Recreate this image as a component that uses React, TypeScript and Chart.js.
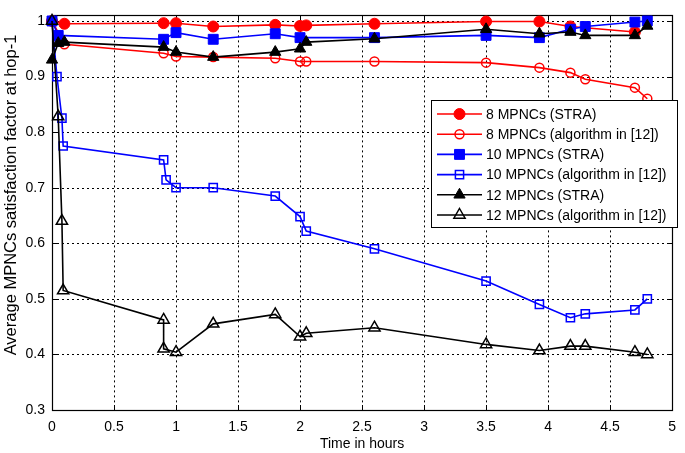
import React, { useEffect, useRef } from 'react';
import { Chart, registerables } from 'chart.js';

Chart.register(...registerables);

const xTicks = [0, 0.5, 1, 1.5, 2, 2.5, 3, 3.5, 4, 4.5, 5];
const yTicks = [0.3, 0.4, 0.5, 0.6, 0.7, 0.8, 0.9, 1];

const seriesLabels = [
  '8 MPNCs (STRA)',
  '8 MPNCs (algorithm in [12])',
  '10 MPNCs (STRA)',
  '10 MPNCs (algorithm in [12])',
  '12 MPNCs (STRA)',
  '12 MPNCs (algorithm in [12])',
];

const red8StraX = [0, 0.1, 0.9, 1.0, 1.3, 1.8, 2.0, 2.05, 2.6, 3.5, 3.93, 4.18, 4.7];
const red8StraY = [1.0, 0.995, 0.996, 0.996, 0.99, 0.993, 0.991, 0.992, 0.995, 0.999, 0.999, 0.99, 0.98];

const red8AlgX = [0, 0.1, 0.9, 1.0, 1.3, 1.8, 2.0, 2.05, 2.6, 3.5, 3.93, 4.18, 4.3, 4.7, 4.8];
const red8AlgY = [1.0, 0.958, 0.942, 0.936, 0.935, 0.933, 0.927, 0.927, 0.927, 0.925, 0.916, 0.907, 0.895, 0.88, 0.86];

const blue10StraX = [0, 0.05, 0.9, 1.0, 1.3, 1.8, 2.0, 2.6, 3.5, 3.93, 4.18, 4.3, 4.7, 4.8];
const blue10StraY = [1.0, 0.974, 0.967, 0.979, 0.967, 0.977, 0.97, 0.97, 0.974, 0.97, 0.985, 0.99, 0.998, 1.0];

const blue10AlgX = [0, 0.04, 0.08, 0.09, 0.9, 0.92, 1.0, 1.3, 1.8, 2.0, 2.05, 2.6, 3.5, 3.93, 4.18, 4.3, 4.7, 4.8];
const blue10AlgY = [1.0, 0.9, 0.825, 0.775, 0.75, 0.714, 0.7, 0.7, 0.685, 0.648, 0.622, 0.59, 0.532, 0.49, 0.466, 0.473, 0.48, 0.5];

const black12StraX = [0, 0.05, 0.1, 0.9, 1.0, 1.3, 1.8, 2.0, 2.05, 2.6, 3.5, 3.93, 4.18, 4.3, 4.7, 4.8];
const black12StraY = [0.93, 0.96, 0.962, 0.953, 0.944, 0.935, 0.944, 0.95, 0.962, 0.968, 0.985, 0.977, 0.98, 0.974, 0.974, 0.991];

const black12AlgX = [0, 0.05, 0.08, 0.09, 0.9, 0.9, 1.0, 1.3, 1.8, 2.0, 2.05, 2.6, 3.5, 3.93, 4.18, 4.3, 4.7, 4.8];
const black12AlgY = [1.0, 0.828, 0.64, 0.515, 0.462, 0.41, 0.404, 0.455, 0.472, 0.432, 0.438, 0.448, 0.418, 0.407, 0.415, 0.415, 0.404, 0.4];

const FONT = '"Liberation Sans", Arial, sans-serif';

const toPoints = (xs: number[], ys: number[]) => xs.map((x, i) => ({ x, y: ys[i] }));

function drawMarker(
  ctx: CanvasRenderingContext2D,
  style: string,
  x: number,
  y: number,
  r: number,
  fill: string,
  stroke: string,
  lw: number
) {
  ctx.beginPath();
  if (style === 'circle') {
    ctx.arc(x, y, r, 0, Math.PI * 2);
  } else if (style === 'rect') {
    const h = r * Math.SQRT1_2;
    ctx.rect(x - h, y - h, 2 * h, 2 * h);
  } else {
    ctx.moveTo(x, y - r);
    ctx.lineTo(x + r * 0.866, y + r * 0.5);
    ctx.lineTo(x - r * 0.866, y + r * 0.5);
    ctx.closePath();
  }
  ctx.fillStyle = fill;
  ctx.fill();
  ctx.lineWidth = lw;
  ctx.strokeStyle = stroke;
  ctx.stroke();
}

const framePlugin = {
  id: 'matlabFrame',
  beforeDatasetsDraw(chart: any) {
    const { ctx, chartArea: a, scales } = chart;
    const xs = scales.x;
    const ys = scales.y;
    ctx.save();
    ctx.strokeStyle = '#000';
    ctx.lineWidth = 1;
    ctx.setLineDash([2, 3]);
    xTicks.forEach((v) => {
      const px = Math.round(xs.getPixelForValue(v)) + 0.5;
      if (px <= a.left + 1 || px >= a.right - 1) return;
      ctx.beginPath();
      ctx.moveTo(px, a.top);
      ctx.lineTo(px, a.bottom);
      ctx.stroke();
    });
    yTicks.forEach((v) => {
      const py = Math.round(ys.getPixelForValue(v)) + 0.5;
      if (py <= a.top + 1 || py >= a.bottom - 1) return;
      ctx.beginPath();
      ctx.moveTo(a.left, py);
      ctx.lineTo(a.right, py);
      ctx.stroke();
    });
    ctx.setLineDash([]);
    ctx.lineWidth = 1;
    // inward tick marks
    xTicks.forEach((v) => {
      const px = Math.round(xs.getPixelForValue(v)) + 0.5;
      ctx.beginPath();
      ctx.moveTo(px, a.bottom);
      ctx.lineTo(px, a.bottom - 5);
      ctx.moveTo(px, a.top);
      ctx.lineTo(px, a.top + 5);
      ctx.stroke();
    });
    yTicks.forEach((v) => {
      const py = Math.round(ys.getPixelForValue(v)) + 0.5;
      ctx.beginPath();
      ctx.moveTo(a.left, py);
      ctx.lineTo(a.left + 5, py);
      ctx.moveTo(a.right, py);
      ctx.lineTo(a.right - 5, py);
      ctx.stroke();
    });
    ctx.lineWidth = 1.2;
    ctx.strokeRect(Math.round(a.left) + 0.5, Math.round(a.top) + 0.5, Math.round(a.right - a.left), Math.round(a.bottom - a.top));
    ctx.restore();
  },
};

const yTitlePlugin = {
  id: 'yTitle',
  afterDraw(chart: any) {
    const { ctx } = chart;
    ctx.save();
    ctx.translate(11, 195);
    ctx.rotate(-Math.PI / 2);
    ctx.font = `16.5px ${FONT}`;
    ctx.fillStyle = '#000';
    ctx.textAlign = 'center';
    ctx.textBaseline = 'middle';
    ctx.fillText('Average MPNCs satisfaction factor at hop-1', 0, 0);
    ctx.restore();
  },
};

const legendPlugin = {
  id: 'boxLegend',
  afterDraw(chart: any) {
    const { ctx } = chart;
    const bx = 431;
    const by = 100;
    const bw = 246;
    const bh = 127;
    ctx.save();
    ctx.fillStyle = '#fff';
    ctx.fillRect(bx, by, bw, bh);
    ctx.strokeStyle = '#000';
    ctx.lineWidth = 1;
    ctx.strokeRect(bx + 0.5, by + 0.5, bw, bh);
    chart.data.datasets.forEach((ds: any, i: number) => {
      const cy = by + 14 + i * 20.2;
      ctx.strokeStyle = ds.borderColor;
      ctx.lineWidth = 1.6;
      ctx.beginPath();
      ctx.moveTo(bx + 6, cy);
      ctx.lineTo(bx + 51, cy);
      ctx.stroke();
      drawMarker(ctx, ds.pointStyle, bx + 28.5, cy, ds.pointRadius, ds.pointBackgroundColor, ds.pointBorderColor, ds.pointBorderWidth);
      ctx.fillStyle = '#000';
      ctx.font = `14px ${FONT}`;
      ctx.textAlign = 'left';
      ctx.textBaseline = 'middle';
      ctx.fillText(ds.label, bx + 55, cy + 1);
    });
    ctx.restore();
  },
};

function makeDataset(label: string, data: any[], color: string, style: string, filled: boolean, radius: number, order: number) {
  return {
    label,
    data,
    borderColor: color,
    backgroundColor: color,
    borderWidth: 1.6,
    pointStyle: style,
    pointRadius: radius,
    pointBackgroundColor: filled ? color : 'rgba(0,0,0,0)',
    pointBorderColor: color,
    pointBorderWidth: filled ? 1 : 1.5,
    showLine: true,
    tension: 0,
    clip: false,
    order,
  };
}

export default function App() {
  const ref = useRef<HTMLCanvasElement | null>(null);

  useEffect(() => {
    document.body.style.margin = '0';
    const canvas = ref.current;
    if (!canvas) return;
    const chart = new Chart(canvas, {
      type: 'scatter',
      data: {
        datasets: [
          makeDataset(seriesLabels[0], toPoints(red8StraX, red8StraY), '#ff0000', 'circle', true, 5.5, 6),
          makeDataset(seriesLabels[1], toPoints(red8AlgX, red8AlgY), '#ff0000', 'circle', false, 4.5, 5),
          makeDataset(seriesLabels[2], toPoints(blue10StraX, blue10StraY), '#0000ff', 'rect', true, 7, 4),
          makeDataset(seriesLabels[3], toPoints(blue10AlgX, blue10AlgY), '#0000ff', 'rect', false, 5.8, 3),
          makeDataset(seriesLabels[4], toPoints(black12StraX, black12StraY), '#000000', 'triangle', true, 6.5, 2),
          makeDataset(seriesLabels[5], toPoints(black12AlgX, black12AlgY), '#000000', 'triangle', false, 6.5, 1),
        ],
      },
      options: {
        animation: false,
        responsive: false,
        devicePixelRatio: 1,
        layout: { padding: { left: 0, right: 7, top: 4, bottom: 0 } },
        plugins: {
          legend: { display: false },
          tooltip: { enabled: false },
        },
        scales: {
          x: {
            type: 'linear',
            min: 0,
            max: 5,
            afterBuildTicks: (scale: any) => {
              scale.ticks = xTicks.map((v) => ({ value: v }));
            },
            afterFit: (scale: any) => {
              scale.height = 43;
            },
            grid: { display: false, drawTicks: false },
            border: { display: false },
            ticks: {
              padding: 9,
              color: '#000',
              font: { family: FONT, size: 14 },
              maxRotation: 0,
              autoSkip: false,
              callback: (v: any) => String(Math.round(Number(v) * 10) / 10),
            },
            title: {
              display: true,
              text: 'Time in hours',
              color: '#000',
              font: { family: FONT, size: 14 },
              padding: { top: 2, bottom: 0 },
            },
          },
          y: {
            type: 'linear',
            min: 0.3,
            max: 1.01,
            afterBuildTicks: (scale: any) => {
              scale.ticks = yTicks.map((v) => ({ value: v }));
            },
            afterFit: (scale: any) => {
              scale.width = 52;
            },
            grid: { display: false, drawTicks: false },
            border: { display: false },
            ticks: {
              padding: 7,
              color: '#000',
              font: { family: FONT, size: 14 },
              autoSkip: false,
              callback: (v: any) => String(Math.round(Number(v) * 10) / 10),
            },
          },
        },
      },
      plugins: [framePlugin, yTitlePlugin, legendPlugin],
    } as any);
    return () => chart.destroy();
  }, []);

  return (
    <div style={{ width: 685, height: 453 }}>
      <canvas ref={ref} width={685} height={453} style={{ width: 685, height: 453, display: 'block' }} />
    </div>
  );
}
